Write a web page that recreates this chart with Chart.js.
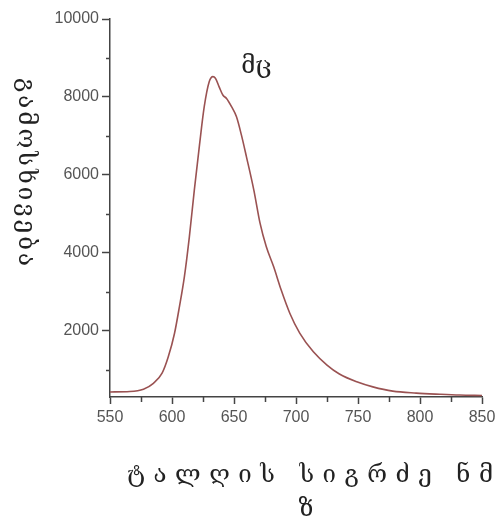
<!DOCTYPE html>
<html>
<head>
<meta charset="utf-8">
<script src="https://cdn.jsdelivr.net/npm/chart.js@4.4.1/dist/chart.umd.min.js"></script>
<style>
  html, body { margin: 0; padding: 0; background: #fff; }
</style>
</head>
<body>
<canvas id="spectrum" width="504" height="526"></canvas>
<script>
// wavelength (nm) and emission intensity
const wavelengths = [550, 566, 577, 585, 592, 597, 602, 606, 610, 614, 618, 622, 626, 630, 633, 635, 638, 641, 644, 648, 652, 656, 660, 666, 671, 676, 682, 688, 695, 703, 714, 725, 735, 749, 762, 778, 797, 816, 832, 850];
const intensity = [430, 440, 500, 650, 910, 1330, 1930, 2620, 3390, 4410, 5610, 6720, 7750, 8390, 8520, 8480, 8260, 8050, 7960, 7750, 7490, 7020, 6470, 5610, 4760, 4160, 3640, 3050, 2450, 1940, 1460, 1120, 890, 690, 560, 450, 400, 370, 350, 340];

const xLabels = [550, 600, 650, 700, 750, 800, 850];
const xMinor = [575, 625, 675, 725, 775, 825];
const yLabels = [2000, 4000, 6000, 8000, 10000];
const yMinor = [1000, 3000, 5000, 7000, 9000];

const yTitle = 'გამოსხივება';
const xTitleLines = ['ტალღის სიგრძე ნმ', 'ზ'];
const peakLabel = 'მც';
const peakAt = { x: 668, y: 8780 };

const axisColor = '#444';
const titleFont = '24px "DejaVu Serif", "DejaVu Sans", serif';
const tickFont = { family: '"Liberation Sans", Arial, sans-serif', size: 16 };

// text spread out to a given width (the original uses wide letter spacing)
function drawSpaced(ctx, text, cx, cy, width) {
    ctx.letterSpacing = '0px';
    const w0 = ctx.measureText(text).width;
    const n = [...text].length;
    const sp = n > 1 ? (width - w0) / (n - 1) : 0;
    ctx.letterSpacing = sp + 'px';
    ctx.textAlign = 'left';
    ctx.fillText(text, cx - width / 2, cy);
    ctx.letterSpacing = '0px';
}

const extrasPlugin = {
    id: 'extras',
    afterDraw(chart) {
        const ctx = chart.ctx;
        const xs = chart.scales.x;
        const ys = chart.scales.y;
        const area = chart.chartArea;

        // minor ticks
        ctx.save();
        ctx.strokeStyle = axisColor;
        ctx.lineWidth = 1.5;
        ctx.beginPath();
        yMinor.forEach(v => {
            const py = Math.round(ys.getPixelForValue(v)) + 0.5;
            ctx.moveTo(area.left - 4, py);
            ctx.lineTo(area.left, py);
        });
        xMinor.forEach(v => {
            const px = Math.round(xs.getPixelForValue(v)) + 0.5;
            ctx.moveTo(px, area.bottom);
            ctx.lineTo(px, area.bottom + 5);
        });
        ctx.stroke();

        ctx.fillStyle = '#222';
        ctx.font = titleFont;
        ctx.textBaseline = 'middle';

        // peak label
        ctx.textAlign = 'center';
        ctx.fillText(peakLabel, xs.getPixelForValue(peakAt.x), ys.getPixelForValue(peakAt.y));

        // x title, two lines
        drawSpaced(ctx, xTitleLines[0], 310, 476, 366);
        ctx.textAlign = 'center';
        ctx.fillText(xTitleLines[1], 306, 510);

        // y title reads top to bottom
        ctx.translate(25, 172);
        ctx.rotate(Math.PI / 2);
        drawSpaced(ctx, yTitle, 0, 0, 188);
        ctx.restore();
    }
};

const points = wavelengths.map((w, i) => ({ x: w, y: intensity[i] }));

new Chart(document.getElementById('spectrum'), {
    type: 'line',
    data: {
        datasets: [{
            data: points,
            borderColor: '#9a5252',
            borderWidth: 1.6,
            pointRadius: 0,
            fill: false,
            cubicInterpolationMode: 'monotone'
        }]
    },
    options: {
        responsive: false,
        animation: false,
        layout: { padding: { top: 19, right: 22, left: 0, bottom: 0 } },
        plugins: { legend: { display: false }, tooltip: { enabled: false } },
        scales: {
            x: {
                type: 'linear',
                min: 550,
                max: 850,
                afterBuildTicks: s => { s.ticks = xLabels.map(v => ({ value: v })); },
                afterFit: s => { s.height = 129; },
                grid: { drawOnChartArea: false, tickLength: 7, tickColor: axisColor, tickWidth: 1.5 },
                border: { color: axisColor, width: 1.5 },
                ticks: {
                    autoSkip: false,
                    maxRotation: 0,
                    padding: 4,
                    color: '#555',
                    font: tickFont,
                    callback: v => String(v)
                }
            },
            y: {
                min: 300,
                max: 10000,
                afterBuildTicks: s => { s.ticks = yLabels.map(v => ({ value: v })); },
                afterFit: s => { s.width = 110; },
                grid: { drawOnChartArea: false, tickLength: 8, tickColor: axisColor, tickWidth: 1.5 },
                border: { color: axisColor, width: 1.5 },
                ticks: {
                    padding: 3,
                    color: '#555',
                    font: tickFont,
                    callback: v => String(v)
                }
            }
        }
    },
    plugins: [extrasPlugin]
});
</script>
</body>
</html>
